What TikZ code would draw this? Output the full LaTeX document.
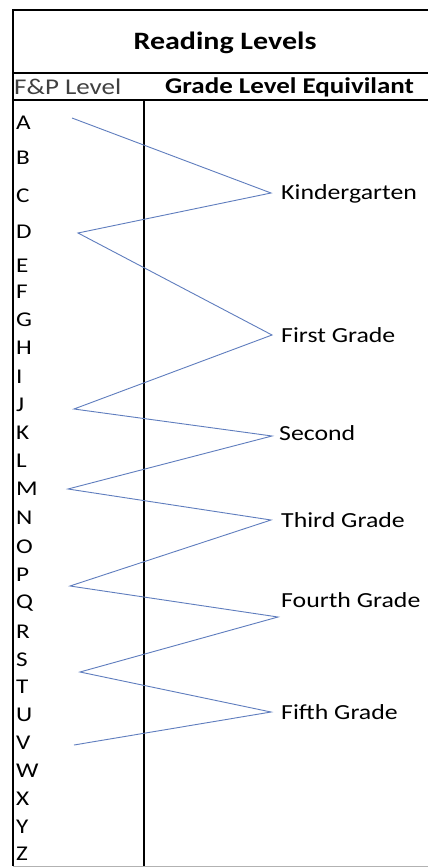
\documentclass[tikz,border=0pt]{standalone}
\usepackage{graphicx}
\usepackage{fontspec}
\setmainfont{Carlito}
\newcommand{\hstr}[1]{\scalebox{1.2}[1.0]{#1}}
\begin{document}
\begin{tikzpicture}[x=1pt,y=-1pt,
  rule/.style={draw=black,line width=1.3pt},
  zig/.style={draw={rgb,255:red,95;green,125;blue,190},line width=0.9pt},
  lvl/.style={anchor=west,inner sep=0pt,font=\fontsize{21}{21}\selectfont},
  grd/.style={anchor=west,inner sep=0pt,font=\fontsize{21.5}{21.5}\selectfont}]
\fill[white] (0,0) rectangle (428,867);
\useasboundingbox (0,0) rectangle (428,867);
% table rules
\coordinate (tl) at (13,10);
\coordinate (tr) at (428,10);
\coordinate (bl) at (13,866);
\coordinate (br) at (428,866);
\coordinate (h1l) at (13,73);
\coordinate (h1r) at (428,73);
\coordinate (h2l) at (13,100);
\coordinate (h2r) at (428,100);
\coordinate (vt) at (144,100);
\coordinate (vb) at (144,866);
\draw[rule] (tr) -- (tl) -- (bl);
\draw[rule] (h1l) -- (h1r);
\draw[rule] (h2l) -- (h2r);
\draw[rule] (vt) -- (vb);
\draw[draw=black!30,line width=0.8pt] (bl) -- (br);
% headers
\node[inner sep=0pt,font=\fontsize{25}{25}\bfseries\selectfont] (title) at (225,43) {\hstr{Reading Levels}};
\node[anchor=west,inner sep=0pt,font=\fontsize{22.5}{22.5}\selectfont,text=black!75] (fp) at (14,87) {\hstr{F\&P Level}};
\node[anchor=west,inner sep=0pt,font=\fontsize{22.5}{22.5}\bfseries\selectfont] (gl) at (165,87) {\hstr{Grade Level Equivilant}};
% letters
\foreach \l/\y in {A/123,B/158,C/196,D/232,E/266,F/292,G/320,H/348,I/377,J/405,K/433,L/461,M/489,N/518,O/547,P/575,Q/603,R/632,S/660,T/687,U/715,V/743,W/771,X/799,Y/827,Z/854}
  \node[lvl] (l\l) at (16,\y) {\hstr{\l}};
% grades
\node[grd] (kg) at (281,194) {\hstr{Kindergarten}};
\node[grd] (g1) at (281,335) {\hstr{First Grade}};
\node[grd] (g2) at (279,433) {\hstr{Second}};
\node[grd] (g3) at (281,520) {\hstr{Third Grade}};
\node[grd] (g4) at (281,600) {\hstr{Fourth Grade}};
\node[grd] (g5) at (281,712) {\hstr{Fifth Grade}};
% zigzag vertices
\coordinate (pA) at (72,118);
\coordinate (pK) at (271,193);
\coordinate (pD) at (78,233);
\coordinate (p1) at (272,335);
\coordinate (pJ) at (74,409);
\coordinate (p2) at (272,436);
\coordinate (pM) at (68,489);
\coordinate (p3) at (271,520);
\coordinate (pP) at (70,586);
\coordinate (p4) at (278,617);
\coordinate (pS) at (80,672);
\coordinate (p5) at (271,712);
\coordinate (pV) at (74,745);
\draw[zig,line join=miter] (pA) -- (pK) -- (pD) -- (p1) -- (pJ) -- (p2) -- (pM) -- (p3) -- (pP) -- (p4) -- (pS) -- (p5) -- (pV);
\end{tikzpicture}
\end{document}
